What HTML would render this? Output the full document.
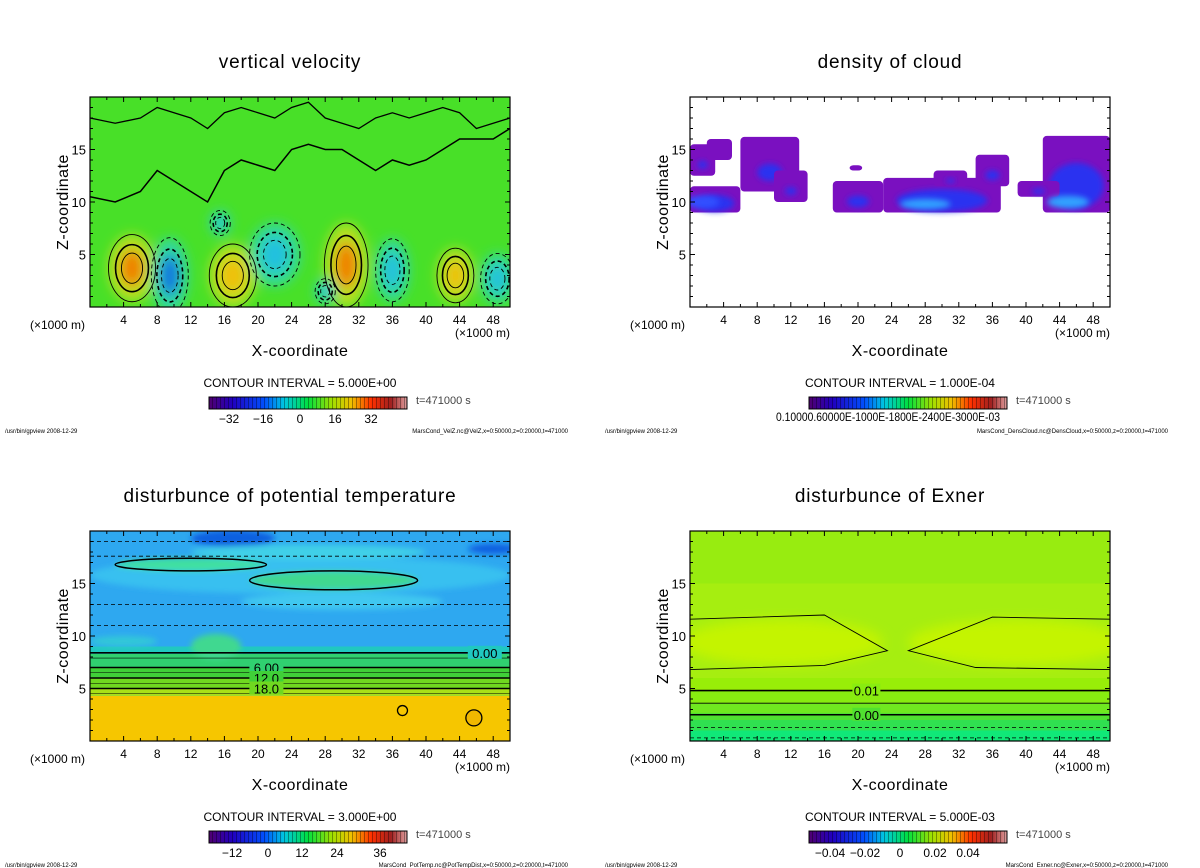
<!DOCTYPE html>
<html><head><meta charset="utf-8">
<style>
html,body{margin:0;padding:0;background:#fff;}
svg{display:block;font-family:"Liberation Sans",sans-serif;}
</style></head>
<body>
<svg id="fig" width="1200" height="868" viewBox="0 0 1200 868" xmlns="http://www.w3.org/2000/svg">
<defs>
<filter id="blur6" x="-50%" y="-50%" width="200%" height="200%"><feGaussianBlur stdDeviation="6"/></filter>
<filter id="blur3" x="-50%" y="-50%" width="200%" height="200%"><feGaussianBlur stdDeviation="3"/></filter>
<linearGradient id="cbgrad" x1="0" x2="1" y1="0" y2="0">
<stop offset="0" stop-color="#500070"/><stop offset="0.12" stop-color="#2000c0"/><stop offset="0.28" stop-color="#0050ff"/>
<stop offset="0.38" stop-color="#00c8e0"/><stop offset="0.5" stop-color="#00e040"/><stop offset="0.62" stop-color="#a0e000"/>
<stop offset="0.72" stop-color="#f0c000"/><stop offset="0.82" stop-color="#ff3000"/><stop offset="0.92" stop-color="#a02020"/><stop offset="1" stop-color="#e0a0a0"/>
</linearGradient>
<pattern id="stripes" width="4" height="10" patternUnits="userSpaceOnUse"><rect x="0" y="0" width="1" height="10" fill="rgba(0,0,0,0.35)"/></pattern>
</defs>
</svg>
<script>
// ---- shared axis data ----
const xTicks = [4,8,12,16,20,24,28,32,36,40,44,48];
const zTicks = [5,10,15];
const xDomain = [0,50];
const zDomain = [0,20];

// ---- panel 1: vertical velocity blobs ----
const velBlobX = [5, 17, 30.5, 43.5, 9.5, 36, 48.5, 22, 15.5, 28];
const velBlobZ = [3.7, 3, 4, 3, 3, 3.5, 2.7, 5, 8, 1.5];
const velBlobRX = [2.8, 2.8, 2.6, 2.2, 2.2, 2, 2, 3, 1.2, 1.2];
const velBlobRZ = [3.2, 3, 4, 2.6, 3.6, 3, 2.4, 3, 1.2, 1.2];
const velBlobV = [28, 18, 22, 14, -26, -16, -18, -6, -6, -8];
const velTopLineX = [0,3,6,8,10,12,14,16,18,20,22,24,26,28,30,32,34,36,38,40,42,44,46,48,50];
const velTopLineZ = [10.5,10,11,13,12,11,10,13,14,13.5,13,15,15.5,15,15,14,13,14,13.5,14,15,16,16,16,17];
const velUpperLineZ = [18,17.5,18,19,18.5,18,17,18.5,19,18.5,18,19,19.5,18,17.5,17,18,18.5,18,18.5,19,18.5,17,17.5,18];

// ---- panel 2: cloud patches [x0,x1,z0,z1] ----
const cloudX0 = [0, 6, 10, 17, 23, 29, 34, 42, 39, 19, 0, 2];
const cloudX1 = [6, 13, 14, 23, 37, 33, 38, 50, 44, 20.5, 3, 5];
const cloudZ0 = [9, 11, 10, 9, 9, 11.5, 11.5, 9, 10.5, 13, 12.5, 14];
const cloudZ1 = [11.5, 16.2, 13, 12, 12.3, 13, 14.5, 16.3, 12, 13.5, 15.5, 16];
const cloudCore = [0.8, 0.4, 0.2, 0.4, 0.9, 0.1, 0.3, 0.9, 0.2, 0, 0.2, 0];

// ---- panel 3: potential temperature ----
const ptBandZ0 = [0, 4.3, 5, 6, 7, 8.3];
const ptBandZ1 = [4.3, 5, 6, 7, 8.3, 9];
const ptBandC = ['#f6c600','#a8e018','#70d820','#40d038','#30d070','#20c8c0'];
const ptPatchX = [25, 12, 29, 17, 48, 26, 15, 4, 30];
const ptPatchZ = [15.8, 16.8, 15.3, 19.3, 18.3, 18, 9, 9.5, 13.3];
const ptPatchRX = [25, 9, 10, 5, 3, 14, 3, 4, 12];
const ptPatchRZ = [1.8, 0.6, 0.9, 0.8, 0.5, 0.7, 1.2, 0.5, 0.8];
const ptPatchC = ['#38c0f0','#40e0a0','#40d890','#1060e0','#1060e0','#40d0e8','#40d890','#30c8d8','#40c8f0'];
const ptLevels = [8.4, 7.0, 6.0, 5.0];
const ptLabels = ['0.00','6.00','12.0','18.0'];

// ---- panel 4: Exner ----
const exBandZ0 = [0, 1, 2, 2.7, 3.6, 4.8];
const exBandZ1 = [1, 2, 2.7, 3.6, 4.8, 6];
const exBandC = ['#10e878','#30e050','#50e030','#70e820','#88ec10','#98ee08'];
const exLevels = [4.8, 3.6, 2.5];
const exLabels = ['0.01','','0.00'];
const exDashLevels = [1.3, 0.3];

const panels = [
 {ox:0, oy:0, title:'vertical velocity', ci:'CONTOUR INTERVAL = 5.000E+00', cbT:['\u221232','\u221216','0','16','32'], cbX:[229,263,300,335,371], foot:'MarsCond_VelZ.nc@VelZ,x=0:50000,z=0:20000,t=471000', bg:'#48e028'},
 {ox:600, oy:0, title:'density of cloud', ci:'CONTOUR INTERVAL = 1.000E-04', cbT:[], cbX:[], foot:'MarsCond_DensCloud.nc@DensCloud,x=0:50000,z=0:20000,t=471000', bg:'#ffffff'},
 {ox:0, oy:434, title:'disturbunce of potential temperature', ci:'CONTOUR INTERVAL = 3.000E+00', cbT:['\u221212','0','12','24','36'], cbX:[232,268,302,337,380], foot:'MarsCond_PotTemp.nc@PotTempDist,x=0:50000,z=0:20000,t=471000', bg:'#2ea8f0'},
 {ox:600, oy:434, title:'disturbunce of Exner', ci:'CONTOUR INTERVAL = 5.000E-03', cbT:['\u22120.04','\u22120.02','0','0.02','0.04'], cbX:[230,265,300,335,368], foot:'MarsCond_Exner.nc@Exner,x=0:50000,z=0:20000,t=471000', bg:'#a6ee10'}
];

const NS = 'http://www.w3.org/2000/svg';
const svg = document.getElementById('fig');
function mk(tag, attrs, parent, text){
  const e = document.createElementNS(NS, tag);
  for (const k in attrs) e.setAttribute(k, attrs[k]);
  if (text !== undefined) e.textContent = text;
  (parent||svg).appendChild(e);
  return e;
}

panels.forEach((p, pi) => {
  const L = 90 + p.ox, R = 510 + p.ox, T = 97 + p.oy, B = 307 + p.oy;
  const sx = v => L + (v - xDomain[0]) / (xDomain[1]-xDomain[0]) * (R-L);
  const sz = v => B - (v - zDomain[0]) / (zDomain[1]-zDomain[0]) * (B-T);
  const sw = v => v / (xDomain[1]-xDomain[0]) * (R-L);
  const sh = v => v / (zDomain[1]-zDomain[0]) * (B-T);

  const g = mk('g', {});
  
  

  const t = mk('text', {x:(L+R)/2 - 10, y:68+p.oy, 'text-anchor':'middle', 'font-size':'19', fill:'#000', 'letter-spacing':'0.8'}, g, p.title);
  
  

  const cid = 'clip' + pi;
  const cp = mk('clipPath', {id:cid}, g);
  mk('rect', {x:L, y:T, width:R-L, height:B-T}, cp);
  const plot = mk('g', {'clip-path':'url(#'+cid+')'}, g);
  
  
  mk('rect', {x:L, y:T, width:R-L, height:B-T, fill:p.bg}, plot);

  if (pi === 0) {
    const bl = mk('g', {filter:'url(#blur6)'}, plot);
    velBlobX.forEach((x, i) => {
      const v = velBlobV[i];
      const outer = v > 0 ? '#b8e020' : '#30d8a0';
      const inner = v > 0 ? (v > 20 ? '#f08000' : '#f0c010') : (v < -20 ? '#1070e0' : '#20c0e0');
      const e1 = mk('ellipse', {cx:sx(x), cy:sz(velBlobZ[i]), rx:sw(velBlobRX[i]), ry:sh(velBlobRZ[i]), fill:outer}, bl);
      
      
      mk('ellipse', {cx:sx(x), cy:sz(velBlobZ[i]), rx:sw(velBlobRX[i])*0.5, ry:sh(velBlobRZ[i])*0.55, fill:inner}, bl);
    });
    velBlobX.forEach((x, i) => {
      const dash = velBlobV[i] < 0 ? '4,3' : 'none';
      [1.0, 0.7, 0.45].forEach(f => {
        mk('ellipse', {cx:sx(x), cy:sz(velBlobZ[i]), rx:sw(velBlobRX[i])*f, ry:sh(velBlobRZ[i])*f, fill:'none', stroke:'#000', 'stroke-width': f===0.7?1.6:0.9, 'stroke-dasharray':dash}, plot);
      });
    });
    const pts = velTopLineX.map((x,i)=> sx(x)+','+sz(velTopLineZ[i])).join(' ');
    const ln = mk('polyline', {points:pts, fill:'none', stroke:'#000', 'stroke-width':1.5}, plot);
    
    
    const pts2 = velTopLineX.map((x,i)=> sx(x)+','+sz(velUpperLineZ[i])).join(' ');
    mk('polyline', {points:pts2, fill:'none', stroke:'#000', 'stroke-width':1.3}, plot);
  }
  if (pi === 1) {
    cloudX0.forEach((x0, i) => {
      const r = mk('rect', {x:sx(x0), y:sz(cloudZ1[i]), width:sw(cloudX1[i]-x0), height:sh(cloudZ1[i]-cloudZ0[i]), rx:4, fill:'#7a10c0'}, plot);
      
      
      if (cloudCore[i] > 0) {
        mk('ellipse', {cx:sx((x0+cloudX1[i])/2), cy:sz(cloudZ0[i] + (cloudZ1[i]-cloudZ0[i])*0.35), rx:sw(cloudX1[i]-x0)*0.4*cloudCore[i]+3, ry:sh(cloudZ1[i]-cloudZ0[i])*0.3*cloudCore[i]+2, fill:'#2a30f0', filter:'url(#blur3)'}, plot);
      }
    });
    const b2 = mk('g', {filter:'url(#blur3)'}, plot);
    mk('ellipse', {cx:sx(28), cy:sz(9.8), rx:sw(3), ry:sh(0.5), fill:'#30a0ff'}, b2);
    mk('ellipse', {cx:sx(45), cy:sz(10), rx:sw(2.5), ry:sh(0.6), fill:'#30a0ff'}, b2);
    mk('ellipse', {cx:sx(1.5), cy:sz(10), rx:sw(2), ry:sh(0.6), fill:'#3050ff'}, b2);
  }
  if (pi === 2) {
    ptBandZ0.forEach((z0, i) => {
      const r = mk('rect', {x:L, y:sz(ptBandZ1[i]), width:R-L, height:sh(ptBandZ1[i]-z0), fill:ptBandC[i]}, plot);
      
      
    });
    const bl = mk('g', {filter:'url(#blur3)'}, plot);
    ptPatchX.forEach((x, i) => {
      mk('ellipse', {cx:sx(x), cy:sz(ptPatchZ[i]), rx:sw(ptPatchRX[i]), ry:sh(ptPatchRZ[i]), fill:ptPatchC[i]}, bl);
    });
    ptPatchX.slice(1,3).forEach((x, j) => {
      const i = j + 1;
      mk('ellipse', {cx:sx(x), cy:sz(ptPatchZ[i]), rx:sw(ptPatchRX[i]), ry:sh(ptPatchRZ[i]), fill:'none', stroke:'#000', 'stroke-width':1.5}, plot);
    });
    [19, 17.6, 13, 11].forEach(z => mk('line', {x1:L, x2:R, y1:sz(z), y2:sz(z), stroke:'#000', 'stroke-width':0.8, 'stroke-dasharray':'4,3'}, plot));
    ptLevels.forEach((z, i) => {
      mk('line', {x1:L, x2:R, y1:sz(z), y2:sz(z), stroke:'#000', 'stroke-width':1.6}, plot);
      mk('line', {x1:L, x2:R, y1:sz(z-0.5), y2:sz(z-0.5), stroke:'#000', 'stroke-width':0.6}, plot);
      const lx = i === 0 ? sx(47) : sx(21);
      mk('rect', {x:lx-17, y:sz(z)-7, width:34, height:13, fill:ptBandC[Math.min(5, 4-i+1)]}, plot);
      mk('text', {x:lx, y:sz(z)+5, 'text-anchor':'middle', 'font-size':'13', fill:'#000'}, plot, ptLabels[i]);
    });
    mk('circle', {cx:sx(45.7), cy:sz(2.2), r:8, fill:'#f0b800', stroke:'#000', 'stroke-width':1.3}, plot);
    mk('circle', {cx:sx(37.2), cy:sz(2.9), r:5, fill:'none', stroke:'#000', 'stroke-width':1.3}, plot);
  }
  if (pi === 3) {
    mk('rect', {x:L, y:T, width:R-L, height:sh(5), fill:'#98ec10'}, plot);
    const bl = mk('g', {filter:'url(#blur6)'}, plot);
    mk('ellipse', {cx:sx(11), cy:sz(9.4), rx:sw(12), ry:sh(2.2), fill:'#c4f400'}, bl);
    mk('ellipse', {cx:sx(39), cy:sz(9.4), rx:sw(13), ry:sh(2.2), fill:'#c4f400'}, bl);
    exBandZ0.forEach((z0, i) => {
      const r = mk('rect', {x:L, y:sz(exBandZ1[i]), width:R-L, height:sh(exBandZ1[i]-z0), fill:exBandC[i]}, plot);
      
      
    });
    mk('path', {d:'M'+L+','+sz(11.6)+' L'+sx(16)+','+sz(12)+' L'+sx(23.5)+','+sz(8.6)+' L'+sx(16)+','+sz(7.2)+' L'+L+','+sz(6.8), fill:'none', stroke:'#000', 'stroke-width':0.9}, plot);
    mk('path', {d:'M'+R+','+sz(11.6)+' L'+sx(36)+','+sz(11.8)+' L'+sx(26)+','+sz(8.6)+' L'+sx(34)+','+sz(7)+' L'+R+','+sz(6.8), fill:'none', stroke:'#000', 'stroke-width':0.9}, plot);
    exLevels.forEach((z, i) => {
      mk('line', {x1:L, x2:R, y1:sz(z), y2:sz(z), stroke:'#000', 'stroke-width': i===1?0.9:1.6}, plot);
      if (exLabels[i]) {
        mk('rect', {x:sx(21)-14, y:sz(z)-7, width:28, height:13, fill:exBandC[4-i]}, plot);
        mk('text', {x:sx(21), y:sz(z)+5, 'text-anchor':'middle', 'font-size':'13', fill:'#000'}, plot, exLabels[i]);
      }
    });
    exDashLevels.forEach(z => mk('line', {x1:L, x2:R, y1:sz(z), y2:sz(z), stroke:'#000', 'stroke-width':0.8, 'stroke-dasharray':'4,3'}, plot));
  }

  // frame and ticks
  const fr = mk('rect', {x:L, y:T, width:R-L, height:B-T, fill:'none', stroke:'#000', 'stroke-width':1.2}, g);
  
  
  for (let v = 0; v <= 50; v += 2) {
    const len = v % 4 === 0 ? 5 : 3;
    mk('line', {x1:sx(v), x2:sx(v), y1:B, y2:B-len, stroke:'#000'}, g);
    mk('line', {x1:sx(v), x2:sx(v), y1:T, y2:T+len, stroke:'#000'}, g);
  }
  for (let v = 0; v <= 20; v += 1) {
    const len = v % 5 === 0 ? 5 : 3;
    mk('line', {x1:L, x2:L+len, y1:sz(v), y2:sz(v), stroke:'#000'}, g);
    mk('line', {x1:R, x2:R-len, y1:sz(v), y2:sz(v), stroke:'#000'}, g);
  }
  xTicks.forEach(v => {
    const tl = mk('text', {x:sx(v), y:B+17, 'text-anchor':'middle', 'font-size':'12', fill:'#000'}, g, String(v));
    
    
  });
  zTicks.forEach(v => {
    const tl = mk('text', {x:L-4, y:sz(v)+5, 'text-anchor':'end', 'font-size':'13', fill:'#000'}, g, String(v));
    
    
  });
  mk('text', {x:30+p.ox, y:B+22, 'font-size':'12', fill:'#000'}, g, '(\u00d71000 m)');
  mk('text', {x:455+p.ox, y:B+30, 'font-size':'12', fill:'#000'}, g, '(\u00d71000 m)');
  const xt = mk('text', {x:300+p.ox, y:B+49, 'text-anchor':'middle', 'font-size':'16', fill:'#000', 'letter-spacing':'0.5'}, g, 'X-coordinate');
  
  
  const zt = mk('text', {x:0, y:0, 'text-anchor':'middle', 'font-size':'16', fill:'#000', 'letter-spacing':'0.5', transform:'translate('+(68+p.ox)+','+(202+p.oy)+') rotate(-90)'}, g, 'Z-coordinate');
  
  

  // legend
  const ci = mk('text', {x:300+p.ox, y:387+p.oy, 'text-anchor':'middle', 'font-size':'12', fill:'#000'}, g, p.ci);
  
  
  const cb = mk('g', {}, g);
  
  
  mk('rect', {x:209+p.ox, y:397+p.oy, width:198, height:12, fill:'url(#cbgrad)'}, cb);
  mk('rect', {x:209+p.ox, y:397+p.oy, width:198, height:12, fill:'url(#stripes)', stroke:'#000'}, cb);
  if (pi === 1) {
    mk('text', {x:776, y:421, 'font-size':'12', fill:'#000', textLength:224, lengthAdjust:'spacingAndGlyphs'}, cb, '0.10000.60000E-1000E-1800E-2400E-3000E-03');
  } else {
    p.cbT.forEach((lab, i) => {
      mk('text', {x:p.cbX[i]+p.ox, y:423+p.oy, 'text-anchor':'middle', 'font-size':'12', fill:'#000'}, cb, lab);
    });
  }
  mk('text', {x:416+p.ox, y:404+p.oy, 'font-size':'11', fill:'#444'}, g, 't=471000 s');
  mk('text', {x:5+p.ox, y:433+p.oy, 'font-size':'6', fill:'#000'}, g, '/usr/bin/gpview  2008-12-29');
  mk('text', {x:568+p.ox, y:433+p.oy, 'text-anchor':'end', 'font-size':'6', fill:'#000'}, g, p.foot);
});
</script>
</body></html>
